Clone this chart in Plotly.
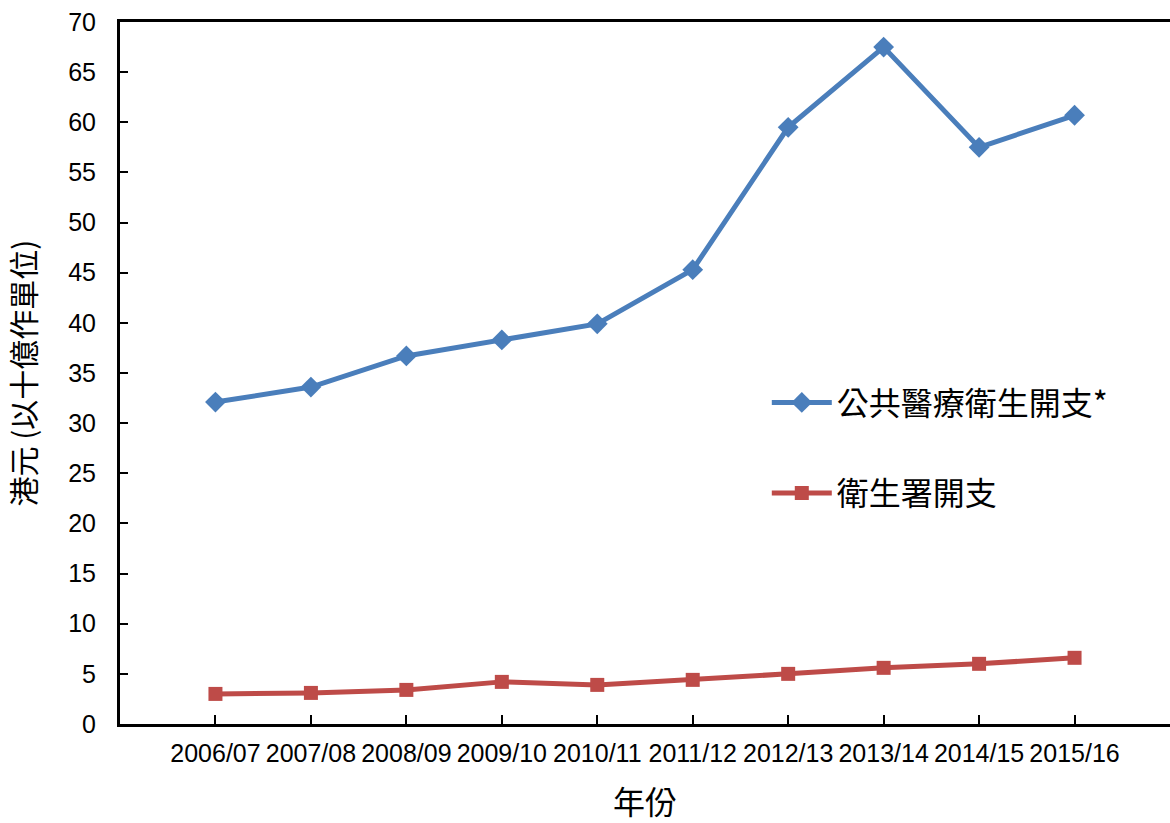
import plotly.graph_objects as go

years = ["2006/07", "2007/08", "2008/09", "2009/10", "2010/11",
         "2011/12", "2012/13", "2013/14", "2014/15", "2015/16"]
public_health = [32.1, 33.6, 36.7, 38.3, 39.9, 45.3, 59.5, 67.5, 57.5, 60.7]
dh_spending = [3.0, 3.1, 3.4, 4.2, 3.9, 4.4, 5.0, 5.6, 6.0, 6.6]

series_names = ["公共醫療衛生開支*", "衛生署開支"]
y_ticks = list(range(0, 71, 5))

CJK = "Noto Sans CJK TC, Liberation Sans, sans-serif"
LAT = "Liberation Sans, Arial, sans-serif"

fig = go.Figure()
fig.add_trace(go.Scatter(
    x=years, y=public_health, mode="lines+markers", name=series_names[0],
    legendgroup="a",
    line=dict(color="#4A7EBB", width=5),
    marker=dict(symbol="diamond", size=16, color="#4A7EBB"),
))
fig.add_trace(go.Scatter(
    x=years, y=dh_spending, mode="lines+markers", name=series_names[1],
    legendgroup="b",
    line=dict(color="#BE4B48", width=5),
    marker=dict(symbol="square", size=14, color="#BE4B48"),
))

fig.update_layout(
    width=1170, height=823,
    margin=dict(l=120, r=0, t=22, b=99),
    paper_bgcolor="white", plot_bgcolor="white",
    font=dict(family=LAT, size=22, color="black"),
    showlegend=True,
    legend=dict(
        x=0.616, y=0.497, xanchor="left", yanchor="top",
        font=dict(family=CJK, size=32, color="black"),
        bgcolor="rgba(0,0,0,0)",
        traceorder="grouped", tracegroupgap=46,
        itemwidth=60,
    ),
)

fig.update_xaxes(
    type="category", range=[-1, 10], automargin=False,
    showline=True, linecolor="black", linewidth=3, mirror=True,
    ticks="inside", ticklen=9, tickwidth=2, tickcolor="black",
    showgrid=False, zeroline=False,
    tickfont=dict(family=LAT, size=25, color="black"),
    ticklabelstandoff=5,
    title=dict(text="年份", font=dict(family=CJK, size=32, color="black"), standoff=38),
)
fig.update_yaxes(
    range=[0, 70], tickvals=y_ticks,
    showline=True, linecolor="black", linewidth=3, mirror=False,
    ticks="inside", ticklen=8, tickwidth=2, tickcolor="black",
    showgrid=False, zeroline=False,
    tickfont=dict(family=LAT, size=25, color="black"),
    ticklabelstandoff=16,
    title=dict(text="港元 (以十億作單位)", font=dict(family=CJK, size=30, color="black"), standoff=26),
)

fig.write_html(
    "out.html",
    config={"displayModeBar": False},
    post_script="document.body.style.margin='0px';document.body.style.overflow='hidden';",
)
